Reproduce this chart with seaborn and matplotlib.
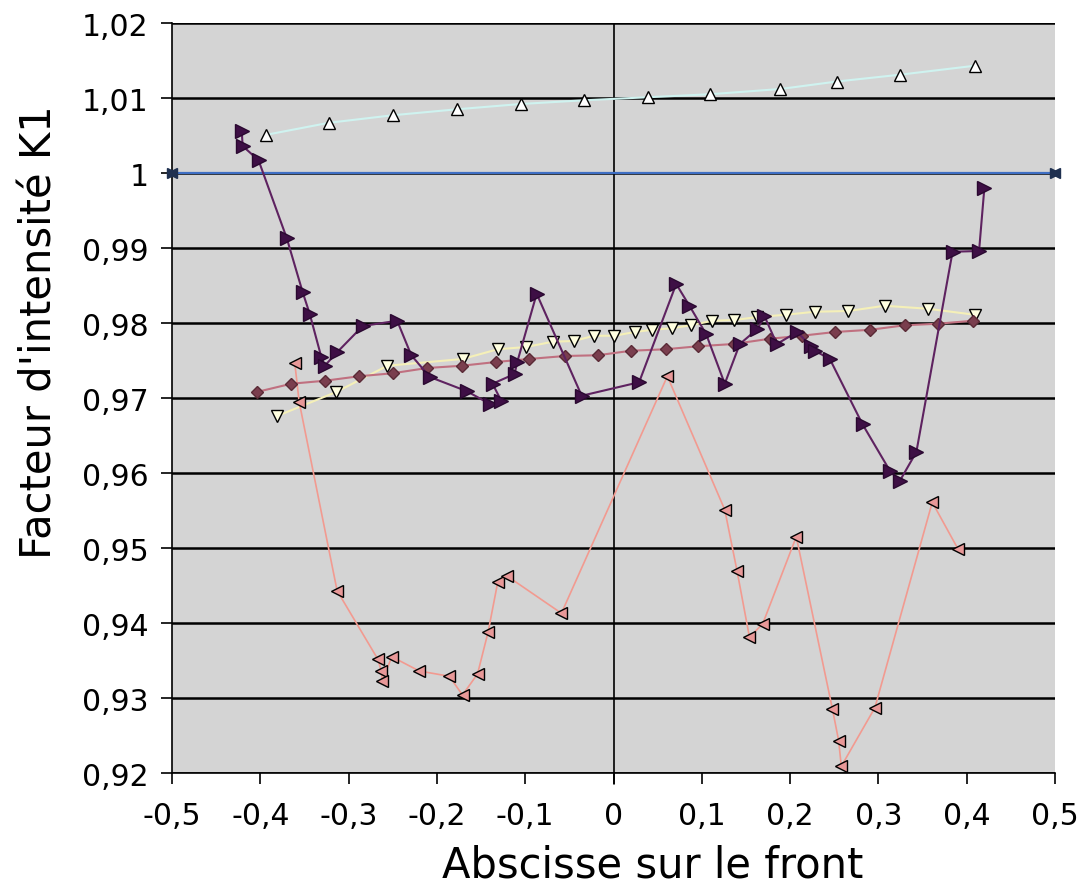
import matplotlib
matplotlib.use("Agg")
import matplotlib.pyplot as plt
import matplotlib.ticker as mticker
import seaborn as sns
import pandas as pd

# ---- data ----
ref_x = [-0.5, 0.5]
ref_y = [1.0, 1.0]

up_x = [-0.393, -0.322, -0.250, -0.177, -0.105, -0.033, 0.039, 0.109, 0.189, 0.253, 0.324, 0.409]
up_y = [1.0051, 1.0067, 1.0077, 1.0085, 1.0092, 1.0097, 1.0101, 1.0105, 1.0112, 1.0122, 1.0131, 1.0143]

down_x = [-0.381, -0.314, -0.256, -0.171, -0.131, -0.099, -0.069, -0.045, -0.022, 0.001, 0.024, 0.044,
          0.066, 0.088, 0.112, 0.137, 0.163, 0.195, 0.228, 0.266, 0.307, 0.356, 0.409]
down_y = [0.9676, 0.9708, 0.9743, 0.9752, 0.9765, 0.9768, 0.9775, 0.9776, 0.9783, 0.9783, 0.9788, 0.9791,
          0.9793, 0.9797, 0.9803, 0.9804, 0.9808, 0.9811, 0.9815, 0.9816, 0.9823, 0.9819, 0.9811]

dia_x = [-0.404, -0.365, -0.327, -0.288, -0.250, -0.211, -0.172, -0.133, -0.096, -0.055, -0.018,
         0.020, 0.059, 0.096, 0.136, 0.177, 0.213, 0.251, 0.291, 0.330, 0.367, 0.407]
dia_y = [0.9708, 0.9719, 0.9723, 0.9729, 0.9733, 0.9740, 0.9743, 0.9748, 0.9752, 0.9756, 0.9757,
         0.9763, 0.9765, 0.9769, 0.9772, 0.9779, 0.9783, 0.9788, 0.9791, 0.9797, 0.9799, 0.9803]

right_x = [-0.421, -0.420, -0.402, -0.370, -0.352, -0.344, -0.331, -0.327, -0.313, -0.284, -0.245,
           -0.229, -0.208, -0.166, -0.140, -0.127, -0.137, -0.112, -0.109, -0.087, -0.036, 0.029,
           0.071, 0.086, 0.105, 0.126, 0.143, 0.163, 0.171, 0.185, 0.208, 0.224, 0.228, 0.245,
           0.282, 0.313, 0.324, 0.343, 0.384, 0.414, 0.420]
right_y = [1.0056, 1.0036, 1.0017, 0.9913, 0.9841, 0.9812, 0.9755, 0.9743, 0.9761, 0.9796, 0.9803,
           0.9757, 0.9728, 0.9709, 0.9692, 0.9696, 0.9719, 0.9732, 0.9748, 0.9839, 0.9703, 0.9721,
           0.9852, 0.9823, 0.9785, 0.9719, 0.9772, 0.9792, 0.9809, 0.9772, 0.9788, 0.9769, 0.9763, 0.9752,
           0.9665, 0.9603, 0.9589, 0.9628, 0.9895, 0.9896, 0.9980]

left_x = [-0.361, -0.356, -0.313, -0.267, -0.263, -0.262, -0.251, -0.220, -0.186, -0.171, -0.154,
          -0.142, -0.131, -0.121, -0.059, 0.061, 0.126, 0.140, 0.154, 0.169, 0.207, 0.248, 0.255,
          0.258, 0.296, 0.361, 0.390]
left_y = [0.9747, 0.9695, 0.9443, 0.9352, 0.9336, 0.9323, 0.9355, 0.9336, 0.9329, 0.9304, 0.9332,
          0.9388, 0.9455, 0.9463, 0.9413, 0.9729, 0.9551, 0.9469, 0.9381, 0.9399, 0.9515, 0.9285, 0.9243,
          0.9209, 0.9287, 0.9561, 0.9499]

x_ticks = [-0.5, -0.4, -0.3, -0.2, -0.1, 0.0, 0.1, 0.2, 0.3, 0.4, 0.5]
y_ticks = [0.92, 0.93, 0.94, 0.95, 0.96, 0.97, 0.98, 0.99, 1.00, 1.01, 1.02]

# ---- figure ----
sns.set_style("white")
plt.rcParams['font.family'] = ['DejaVu Sans']
plt.rcParams['text.color'] = 'black'
plt.rcParams['axes.labelcolor'] = 'black'
plt.rcParams['xtick.color'] = 'black'
plt.rcParams['ytick.color'] = 'black'

fig = plt.figure(figsize=(10.85, 8.87), dpi=100)
ax = fig.add_axes([172 / 1085, (887 - 774) / 887, (1055 - 172) / 1085, (774 - 24) / 887])
ax.set_facecolor("#D4D4D4")

def draw(xs, ys, line_color, marker, mface, medge, msize, lw, z):
    df = pd.DataFrame({"x": xs, "y": ys})
    sns.lineplot(data=df, x="x", y="y", sort=False, estimator=None, ax=ax,
                 color=line_color, lw=lw, marker=marker, markersize=msize,
                 markerfacecolor=mface, markeredgecolor=medge, markeredgewidth=1.0,
                 zorder=z)

# grid lines
for yv in y_ticks:
    ax.axhline(yv, color="black", lw=1.8, zorder=1)
ax.axvline(0, color="black", lw=1.2, zorder=1)
ax.plot([0, 0], [0.92, 0.92 - 0.0014], color="black", lw=1.2, clip_on=False, zorder=1)

draw(ref_x, ref_y, "#3F6FC4", None, None, None, 0, 1.6, 3)
ax.plot(ref_x, ref_y, ls="none", marker=">", ms=7, color="#1F3050", zorder=4, clip_on=False)
ax.plot(ref_x, ref_y, ls="none", marker="<", ms=7, color="#1F3050", zorder=4, clip_on=False)

draw(up_x, up_y, "#CFF3F0", "^", "white", "black", 8, 1.5, 3)
draw(down_x, down_y, "#F5F0B8", "v", "#FFFFE0", "black", 8, 1.5, 3)
draw(left_x, left_y, "#F29A90", "<", "#E89898", "black", 9, 1.2, 4)
draw(dia_x, dia_y, "#C07080", "D", "#7A3E4E", "#5A2A36", 6.5, 1.5, 5)
draw(right_x, right_y, "#5E2260", ">", "#3E0F45", "#2A0830", 10, 1.5, 6)

ax.set_xlim(-0.5, 0.5)
ax.set_ylim(0.92, 1.02)
ax.set_xticks(x_ticks)
ax.set_yticks(y_ticks)

def fmt(v, pos):
    s = ("%.2f" % v).rstrip("0").rstrip(".")
    if s in ("-0",):
        s = "0"
    return s.replace(".", ",")

ax.xaxis.set_major_formatter(mticker.FuncFormatter(fmt))
ax.yaxis.set_major_formatter(mticker.FuncFormatter(fmt))

ax.tick_params(axis="both", direction="out", length=8, width=1.2, color="black",
               labelsize=21.5, bottom=True, left=True)
ax.tick_params(axis="x", pad=12)
ax.tick_params(axis="y", pad=9)
for sp in ax.spines.values():
    sp.set_visible(False)
ax.spines["left"].set_visible(True)
ax.spines["bottom"].set_visible(True)
ax.spines["left"].set_color("black")
ax.spines["bottom"].set_color("black")
ax.spines["left"].set_linewidth(1.2)
ax.spines["bottom"].set_linewidth(1.2)

ax.set_xlabel("Abscisse sur le front", fontsize=30)
ax.set_ylabel("Facteur d'intensité K1", fontsize=30)
ax.xaxis.set_label_coords((653 - 172) / 883, (774 - 845) / 750)
ax.yaxis.set_label_coords((60 - 172) / 883, (774 - 332) / 750)

fig.savefig("out.png", dpi=100, facecolor="white")
